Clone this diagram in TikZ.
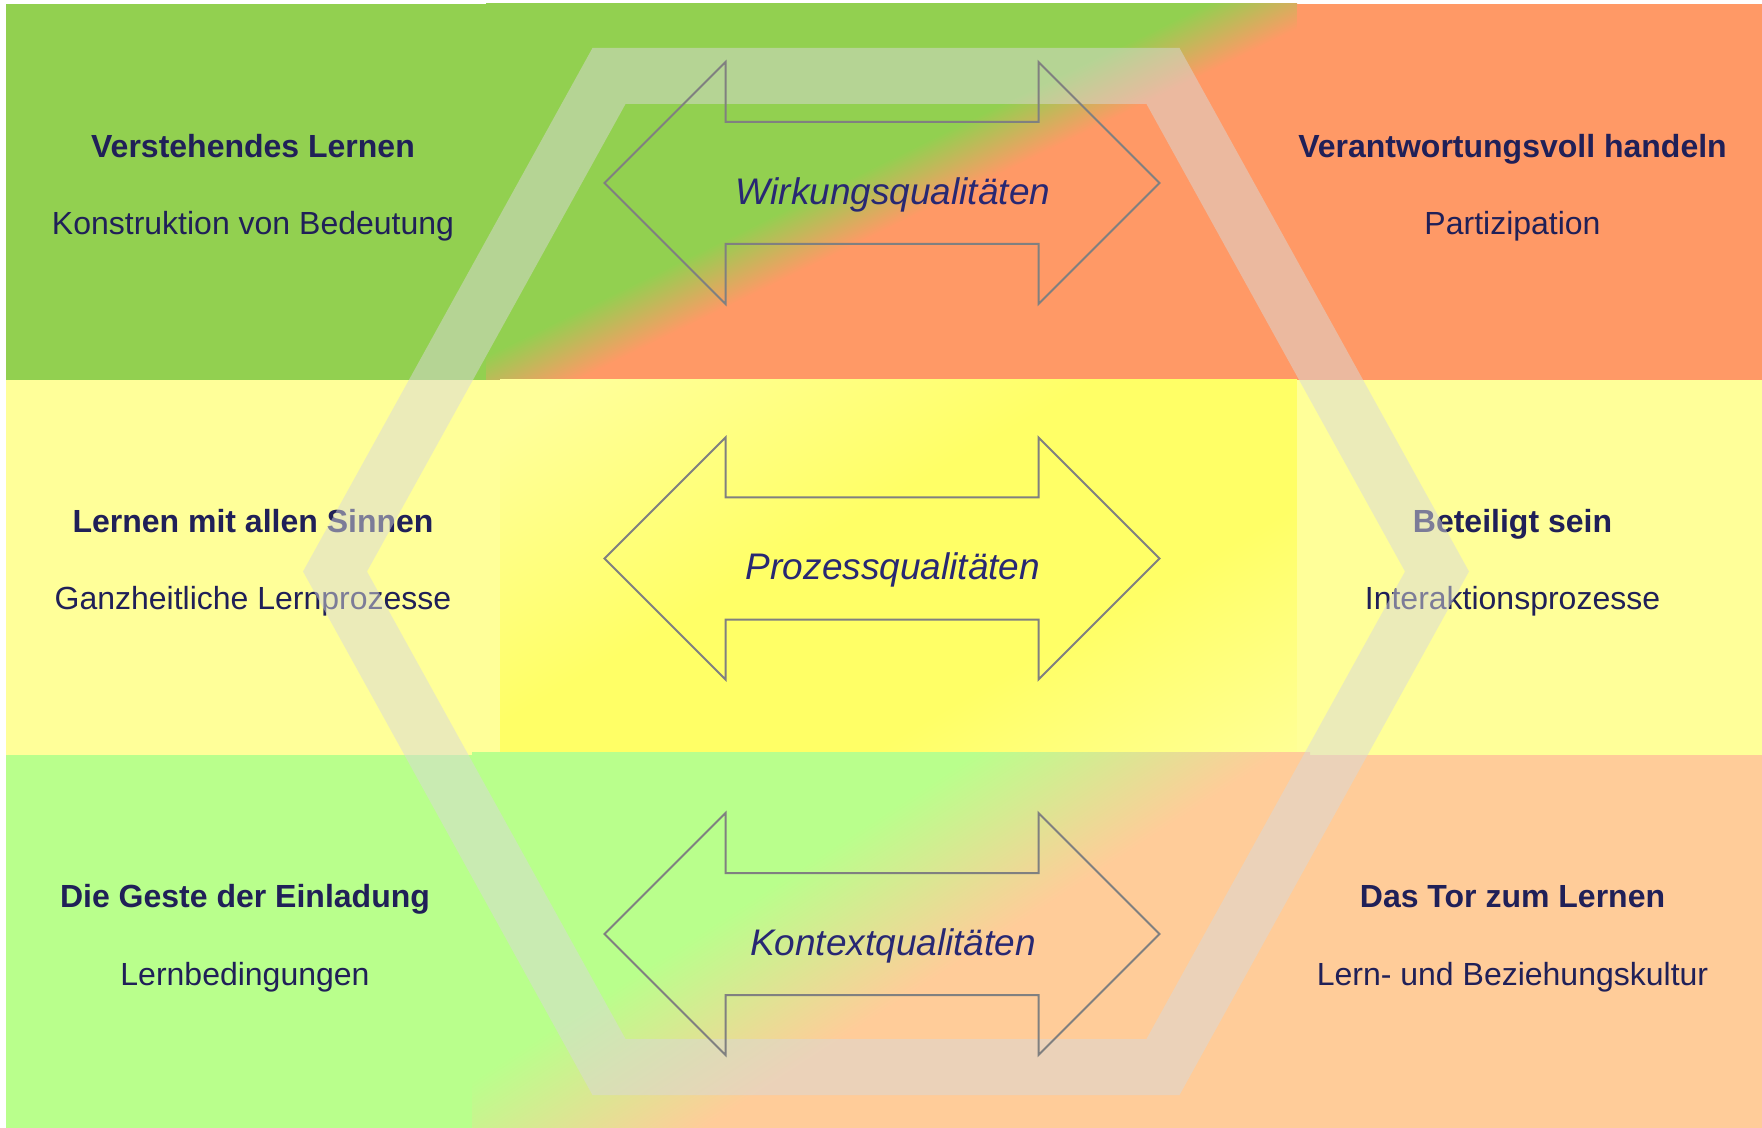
\documentclass[tikz,border=0pt]{standalone}
\usepackage{fontspec}
\setmainfont{Liberation Sans}
\usetikzlibrary{positioning,shapes.arrows}
\definecolor{deepgreen}{RGB}{146,208,80}
\definecolor{deeporange}{RGB}{255,153,102}
\definecolor{paleyellow}{RGB}{255,255,153}
\definecolor{brightyellow}{RGB}{255,255,102}
\definecolor{palegreen}{RGB}{185,255,140}
\definecolor{peach}{RGB}{255,204,153}
\definecolor{bandgray}{RGB}{217,217,217}
\definecolor{arrowgray}{RGB}{128,128,128}
\definecolor{navytext}{RGB}{32,32,88}
\definecolor{labeltext}{RGB}{40,40,115}
\pgfdeclarehorizontalshading{topblend}{100bp}{color(0bp)=(deepgreen); color(47bp)=(deepgreen); color(53bp)=(deeporange); color(100bp)=(deeporange)}
\pgfdeclarehorizontalshading{midblend}{100bp}{color(0bp)=(paleyellow); color(20bp)=(paleyellow); color(44bp)=(brightyellow); color(64bp)=(brightyellow); color(86bp)=(paleyellow); color(100bp)=(paleyellow)}
\pgfdeclarehorizontalshading{botblend}{100bp}{color(0bp)=(palegreen); color(40bp)=(palegreen); color(55bp)=(peach); color(100bp)=(peach)}
\tikzset{
	quality model/.style={
		x=0.5pt,y=-0.5pt, % one unit is one pixel of the slide
		node distance=22.2pt
	},
	blend field/.style 2 args={
		shading=#1,
		shading angle=#2 % blend runs along the diagonal
	},
	field title/.style={
		anchor=base,
		inner sep=0pt,
		text=navytext,
		font=\fontsize{16}{19}\selectfont\bfseries,
		text height=12pt,text depth=4pt % adjust baselines
	},
	field subtitle/.style={
		field title,
		font=\fontsize{16}{19}\selectfont
	},
	hexagon band/.style={
		draw=bandgray,
		draw opacity=0.5,
		line width=28pt,
		line join=miter
	},
	quality arrow/.style={
		double arrow,
		draw=arrowgray,
		line width=1pt,
		inner xsep=0pt,
		inner ysep=30pt, % shaft width
		minimum height=277.5pt,
		double arrow head extend=30pt,
		double arrow tip angle=90,
		double arrow head indent=0pt
	},
	quality label/.style={
		anchor=base,
		inner sep=0pt,
		text=labeltext,
		font=\fontsize{18.5}{22}\selectfont\itshape
	}
}
\begin{document}
\begin{tikzpicture}[quality model]
	\useasboundingbox (0,0) rectangle (1762,1128);
	% fields
	\fill[deepgreen] (6,4) rectangle (486,380);
	\shade[blend field={topblend}{-64}] (486,4) rectangle (1297,380);
	\fill[deeporange] (1297,4) rectangle (1762,380);
	\fill[paleyellow] (6,380) rectangle (500,755);
	\shade[blend field={midblend}{-60}] (500,380) rectangle (1297,752);
	\fill[paleyellow] (1297,380) rectangle (1762,755);
	\fill[palegreen] (6,755) rectangle (472,1128);
	\shade[blend field={botblend}{-57}] (472,752) rectangle (1310,1128);
	\fill[peach] (1310,755) rectangle (1762,1128);
	% left column
	\node[field title] (verstehen) at (253,157.3) {Verstehendes Lernen};
	\node[field subtitle,below=of verstehen] (bedeutung) {Konstruktion von Bedeutung};
	\node[field title] (sinne) at (253,532.6) {Lernen mit allen Sinnen};
	\node[field subtitle,below=of sinne] (ganzheit) {Ganzheitliche Lernprozesse};
	\node[field title] (geste) at (245,907.9) {Die Geste der Einladung};
	\node[field subtitle,below=of geste] (bedingung) {Lernbedingungen};
	% right column
	\node[field title] (handeln) at (1512.5,157.3) {Verantwortungsvoll handeln};
	\node[field subtitle,below=of handeln] (partizipation) {Partizipation};
	\node[field title] (beteiligt) at (1512.5,532.6) {Beteiligt sein};
	\node[field subtitle,below=of beteiligt] (interaktion) {Interaktionsprozesse};
	\node[field title] (tor) at (1512.5,907.9) {Das Tor zum Lernen};
	\node[field subtitle,below=of tor] (kultur) {Lern- und Beziehungskultur};
	% hexagon
	\draw[hexagon band] (609,76) -- (1163,76) -- (1437,571.5) -- (1163,1067)
		-- (609,1067) -- (335,571.5) -- cycle;
	% qualities
	\node[quality arrow] (wirkung) at (882,183) {};
	\node[quality arrow] (prozess) at (882,558.5) {};
	\node[quality arrow] (kontext) at (882,934) {};
	\node[quality label] (wirklabel) at (893,204.5) {Wirkungsqualitäten};
	\node[quality label] (prozlabel) at (893,579.8) {Prozessqualitäten};
	\node[quality label] (kontlabel) at (893,955) {Kontextqualitäten};
\end{tikzpicture}
\end{document}
